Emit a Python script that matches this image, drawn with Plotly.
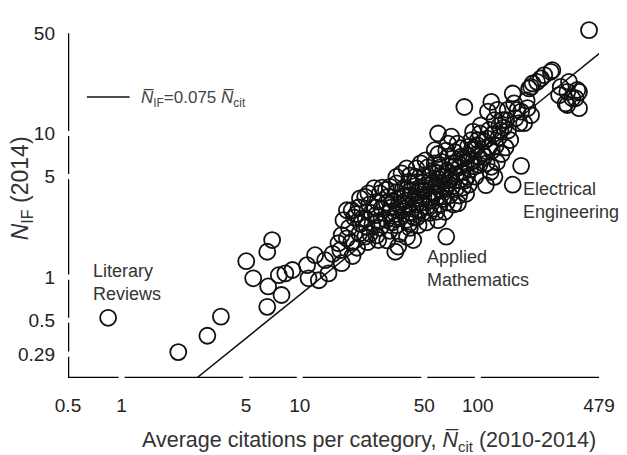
import math
import plotly.graph_objects as go

# ---- data ----
n_cit = [
    0.84, 2.08, 3.03, 3.61, 5.01, 5.48, 6.57, 7.0, 6.65, 6.57, 7.63, 7.9, 8.3, 9.1, 11.0, 12.2, 13.9, 11.2, 12.8, 14.5,
    15.3, 16.5, 17.2, 16.9, 17.2, 18.4, 17.6, 18.4, 19.6, 21.8, 23.8, 34.4, 66.5,
    18.9, 19.5, 20.2, 19.8, 21.0, 21.6, 22.0, 20.8, 21.4, 22.4,
    24.0, 24.8, 23.5, 25.2, 24.5, 23.3, 24.3, 25.6, 23.3,
    27.0, 28.2, 27.5, 26.8, 28.8, 27.3, 28.2, 29.0, 26.5, 26.2, 27.6,
    31.0, 32.0, 30.6, 31.8, 32.6, 30.8, 31.6, 32.1, 30.5, 33.0,
    35.7, 36.3, 35.0, 36.8, 35.4, 36.0, 37.3, 35.0, 35.0, 37.3, 34.6, 38.0, 34.9,
    40.0, 41.5, 39.8, 42.0, 40.6, 39.5, 41.8, 42.4, 40.2, 41.0, 39.8, 41.5, 43.0, 41.2,
    43.4, 46.5, 45.5, 47.2, 45.0, 46.8, 45.2, 47.5, 45.8, 44.5, 45.2, 47.8, 48.0, 44.6,
    51.5, 53.5, 52.0, 54.2, 50.4, 52.8, 51.0, 53.6, 54.8, 52.2, 50.8, 55.5, 49.5,
    59.8, 58.5, 61.0, 59.0, 62.0, 58.2, 60.5, 62.4, 57.3, 59.2, 61.5, 60.0, 59.8, 63.0, 57.0, 57.3,
    65.2, 67.0, 69.5, 66.0, 68.5, 70.5, 67.2, 72.5, 68.0, 66.5, 68.0, 71.0, 69.0, 64.5,
    77.3, 78.5, 76.0, 79.0, 75.5, 80.7, 78.2, 76.5, 74.5, 77.0, 80.0, 82.0, 84.0,
    86.0, 89.0, 87.0, 90.5, 85.5, 88.0, 88.0, 92.0, 94.0, 91.0, 84.5,
    102, 100, 104, 111, 97, 96, 96, 101, 103, 99, 106,
    109, 116, 116, 114, 118, 112, 119, 113, 120,
    124, 124, 129, 119, 131, 134, 126, 136, 138, 132,
    144, 147, 152, 148, 143, 157, 157,
    167, 171, 175, 175, 163, 160,
    182, 199, 190, 194, 199, 188,
    203, 226, 215, 236, 257, 262,
    292, 318, 286, 370, 339, 318, 370, 311, 362, 325, 354,
    421,
    33.5, 34.0, 38.5, 38.8, 43.8, 44.0, 48.5, 49.0, 50.0, 55.8, 56.5, 56.0, 63.5, 64.0,
    72.0, 73.0, 74.0, 82.5, 83.0, 95.0, 108, 93, 122, 140, 128,
]
n_if = [
    0.52, 0.30, 0.39, 0.53, 1.29, 0.98, 1.50, 1.81, 0.86, 0.62, 1.03, 0.75, 1.06, 1.12, 1.21, 1.42, 1.31, 0.98, 0.95, 1.06,
    1.45, 1.72, 1.25, 1.54, 1.96, 1.86, 2.49, 2.92, 2.92, 3.53, 2.24, 1.50, 1.91,
    2.2, 1.75, 2.6, 1.4, 1.6, 2.0, 2.35, 2.75, 3.05, 2.55,
    1.75, 2.0, 2.55, 2.8, 3.2, 3.62, 3.83, 2.35, 1.91,
    1.95, 2.2, 2.45, 2.7, 3.0, 3.35, 3.83, 4.2, 3.05, 4.17, 1.81,
    1.8, 2.1, 2.5, 2.8, 3.05, 3.3, 3.65, 4.25, 4.05, 2.4,
    1.63, 2.0, 2.3, 2.6, 2.9, 3.2, 3.5, 3.9, 4.49, 5.27, 2.75, 4.1, 4.98,
    1.9, 2.2, 2.5, 2.8, 3.1, 3.4, 3.7, 4.03, 4.1, 4.6, 5.71, 5.1, 3.0, 2.35,
    1.81, 2.3, 2.6, 2.9, 3.2, 3.5, 3.85, 4.2, 4.6, 5.0, 5.71, 6.2, 3.3, 4.3,
    2.4, 2.8, 3.1, 3.4, 4.03, 3.75, 4.35, 4.7, 5.27, 5.8, 6.5, 4.5, 3.6,
    2.49, 2.85, 3.2, 3.6, 4.0, 4.4, 4.8, 6.35, 6.19, 5.3, 5.8, 7.2, 10.0, 4.3, 3.85, 7.65,
    2.85, 3.3, 3.7, 4.1, 4.5, 5.0, 5.5, 6.19, 6.9, 7.6, 8.5, 9.5, 4.8, 5.2,
    3.26, 3.7, 4.2, 4.7, 5.2, 6.9, 5.8, 6.4, 7.4, 8.5, 7.9, 5.4, 15.3,
    3.8, 4.4, 5.0, 5.6, 6.2, 7.0, 8.08, 9.0, 10.3, 6.6, 4.7,
    6.03, 9.0, 11.4, 4.37, 5.0, 5.9, 7.7, 6.9, 10.0, 8.3, 7.3,
    6.9, 8.08, 10.6, 14.2, 5.4, 6.2, 5.86, 9.2, 7.6,
    4.99, 12.4, 14.6, 16.6, 9.4, 10.5, 8.2, 7.2, 12.4, 11.3,
    12.4, 14.6, 9.0, 10.5, 8.0, 19.0, 4.4,
    14.6, 11.8, 14.2, 5.95, 12.8, 16.2,
    11.8, 13.4, 15.0, 20.6, 21.1, 17.0,
    22.3, 24.2, 22.9, 25.5, 26.9, 27.6,
    21.1, 19.5, 18.5, 19.5, 17.6, 15.8, 15.0, 16.2, 20.1, 22.9, 17.6,
    52.5,
    3.4, 2.55, 3.0, 3.7, 2.6, 3.5, 4.0, 2.8, 5.0, 3.9, 3.0, 5.5, 5.0, 3.5,
    4.3, 3.2, 5.9, 4.2, 6.7, 6.5, 8.8, 7.8, 9.9, 11.0, 6.3,
]

slope = 0.075                 # N_IF = 0.075 N_cit
fit_cit = [2.64, 495]

x_ticks = [0.5, 1, 5, 10, 50, 100, 479]
x_labels = ["0.5", "1", "5", "10", "50", "100", "479"]
y_ticks = [0.29, 0.5, 1, 5, 10, 50]
y_labels = ["0.29", "0.5", "1", "5", "10", "50"]
x_lim = [0.5, 479]            # drawn axis extent
y_lim = [0.198, 50]           # drawn axis extent
y_view_top = 57               # plotting range top (room for the top outlier)

FONT = "Liberation Sans, Arial, sans-serif"
INK = "#222222"

W, H = 627, 455
ML, MR, MB = 68, 25, 77
YDEC = 143.6                  # pixels per decade on y (from the reference)
MT = round(33 - (math.log10(y_view_top) - math.log10(y_lim[1])) * YDEC)
PW, PH = W - ML - MR, H - MT - MB


def px_x(p):
    return (p - ML) / PW


def px_y(p):
    return (H - MB - p) / PH


def broken_axis(breaks, lo, hi, gap):
    """Axis line drawn as segments, interrupted at each interior tick."""
    pts = [lo] + [b for b in breaks if lo < b < hi] + [hi]
    out = []
    for i in range(len(pts) - 1):
        a = pts[i] * (gap if i > 0 else 1)
        b = pts[i + 1] / (gap if i + 1 < len(pts) - 1 else 1)
        out += [a, b, None]
    return out


xdec = PW / (math.log10(x_lim[1]) - math.log10(x_lim[0]))
ydec = PH / (math.log10(y_view_top) - math.log10(y_lim[0]))
xgap = 10 ** (3.0 / xdec)
ygap = 10 ** (2.6 / ydec)

xa = broken_axis(x_ticks, x_lim[0], x_lim[1], xgap)
ya = broken_axis(y_ticks, y_lim[0], y_lim[1], ygap)

fig = go.Figure()

fig.add_trace(go.Scatter(
    x=n_cit, y=n_if, mode="markers",
    marker=dict(symbol="circle-open", size=16, color="#111111", line=dict(width=1.8)),
    cliponaxis=False, showlegend=False, hoverinfo="x+y",
))

fig.add_trace(go.Scatter(
    x=fit_cit, y=[slope * v for v in fit_cit], mode="lines",
    line=dict(color="#111111", width=1.5), cliponaxis=False, showlegend=False,
))

fig.add_trace(go.Scatter(
    x=xa, y=[y_lim[0] if v is not None else None for v in xa], mode="lines",
    line=dict(color="#000000", width=2.5), cliponaxis=False, showlegend=False, hoverinfo="skip",
))
fig.add_trace(go.Scatter(
    x=[x_lim[0] if v is not None else None for v in ya], y=ya, mode="lines",
    line=dict(color="#000000", width=2.5), cliponaxis=False, showlegend=False, hoverinfo="skip",
))

NBAR = "<i>N\u0305</i>"

annotations = [
    dict(text="Literary<br>Reviews", x=px_x(91), y=px_y(282.5), xanchor="left", yanchor="middle",
         align="left", font=dict(size=18, color="#333333", family=FONT)),
    dict(text="Applied<br>Mathematics", x=px_x(427), y=px_y(268.5), xanchor="left", yanchor="middle",
         align="left", font=dict(size=18, color="#333333", family=FONT)),
    dict(text="Electrical<br>Engineering", x=px_x(524), y=px_y(200), xanchor="left", yanchor="middle",
         align="left", font=dict(size=18, color="#333333", family=FONT)),
    dict(text=NBAR + "<sub>IF</sub>=0.075 " + NBAR + "<sub>cit</sub>", x=px_x(139), y=px_y(99),
         xanchor="left", yanchor="middle", align="left",
         font=dict(size=17, color="#444444", family=FONT)),
    dict(text="Average citations per category, " + NBAR + "<sub>cit</sub> (2010-2014)",
         x=px_x(371), y=px_y(441), xanchor="center", yanchor="middle",
         font=dict(size=21.5, color="#333333", family=FONT)),
    dict(text="<i>N</i><sub>IF</sub> (2014)", x=px_x(21), y=px_y(188), xanchor="center", yanchor="middle",
         textangle=-90, font=dict(size=23, color="#333333", family=FONT)),
]
for a in annotations:
    a.update(xref="paper", yref="paper", showarrow=False)

fig.update_layout(
    width=W, height=H,
    margin=dict(l=ML, r=MR, t=MT, b=MB),
    paper_bgcolor="white", plot_bgcolor="white",
    showlegend=False,
    annotations=annotations,
    shapes=[dict(type="line", xref="paper", yref="paper",
                 x0=px_x(87), x1=px_x(130), y0=px_y(97), y1=px_y(97),
                 line=dict(color="#111111", width=1.6))],
    xaxis=dict(type="log", range=[math.log10(x_lim[0]), math.log10(x_lim[1])],
               tickvals=x_ticks, ticktext=x_labels, ticks="", showline=False,
               showgrid=False, zeroline=False, ticklabelstandoff=14,
               tickfont=dict(size=19, color=INK, family=FONT)),
    yaxis=dict(type="log", range=[math.log10(y_lim[0]), math.log10(y_view_top)],
               tickvals=y_ticks, ticktext=y_labels, ticks="", showline=False,
               showgrid=False, zeroline=False, ticklabelstandoff=12,
               tickfont=dict(size=19, color=INK, family=FONT)),
)

fig.write_html("out.html")
